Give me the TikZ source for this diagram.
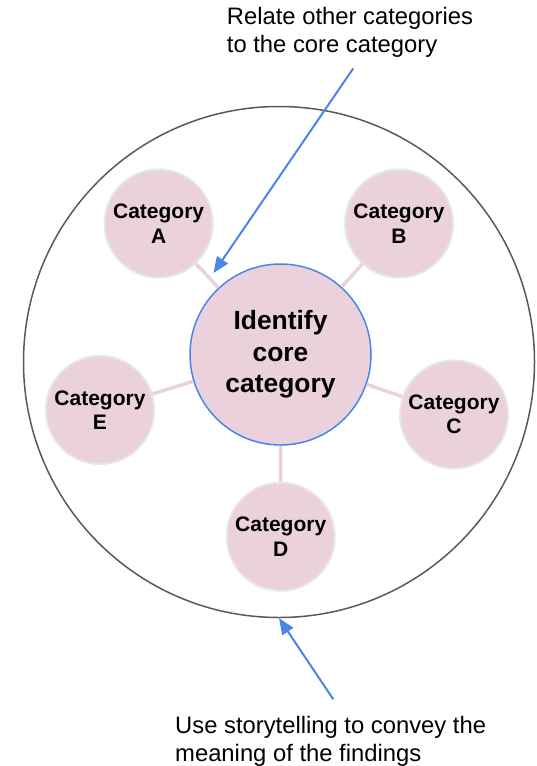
\documentclass[tikz,border=0pt]{standalone}
\usepackage{fontspec}
\setmainfont{Liberation Sans}
\usetikzlibrary{arrows.meta}
\definecolor{catpink}{HTML}{EAD1DC}
\definecolor{coreblue}{HTML}{4A86E8}
\definecolor{rimgray}{HTML}{E6E6E6}
\definecolor{framegray}{HTML}{595959}
\begin{document}
\begin{tikzpicture}[x=1pt,y=-1pt,
    cat/.style={circle,draw=rimgray,line width=2pt,fill=catpink,minimum size=108pt,
      inner sep=0pt,align=center,font=\bfseries\fontsize{21}{24.5}\selectfont},
    corebox/.style={circle,draw=coreblue,line width=1.5pt,fill=catpink,minimum size=181pt,
      inner sep=0pt,align=center,font=\bfseries\fontsize{26.4}{31.7}\selectfont},
    note/.style={anchor=base west,align=left,inner sep=0pt,font=\fontsize{23.8}{28}\selectfont},
    link/.style={draw=catpink,line width=3.5pt},
    pointer/.style={draw=coreblue,line width=2pt,-{Triangle[length=16pt,width=13pt]}}]
      \useasboundingbox (0,0) rectangle (536,766);
      \draw[framegray,line width=1.5pt] (279,362) node[circle,draw,minimum size=511pt] (frame){};
      \draw
        (280.5,354.5) node[corebox] (core){Identify\\core\\category}
        (158.6,223.5) node[cat] (A){Category\\A}
        (399,223.5) node[cat] (B){Category\\B}
        (454,414.5) node[cat] (C){Category\\C}
        (280.7,536.7) node[cat] (D){Category\\D}
        (100,410) node[cat] (E){Category\\E};
      \begin{scope}[link]
        \draw (A) to (core);
        \draw (B) to (core);
        \draw (C) to (core);
        \draw (D) to (core);
        \draw (E) to (core);
      \end{scope}
      \node[note] (relate) at (226.7,52.5) {Relate other categories\\to the core category};
      \node[note] (story) at (175,761) {Use storytelling to convey the\\meaning of the findings};
      \coordinate (relate tail) at (353.3,68.3);
      \coordinate (relate tip) at (213.5,273);
      \coordinate (story tail) at (333.3,699.3);
      \begin{scope}[pointer]
        \draw (relate tail) to (relate tip);
        \draw (story tail) to (frame.south);
      \end{scope}
    \end{tikzpicture}
\end{document}
